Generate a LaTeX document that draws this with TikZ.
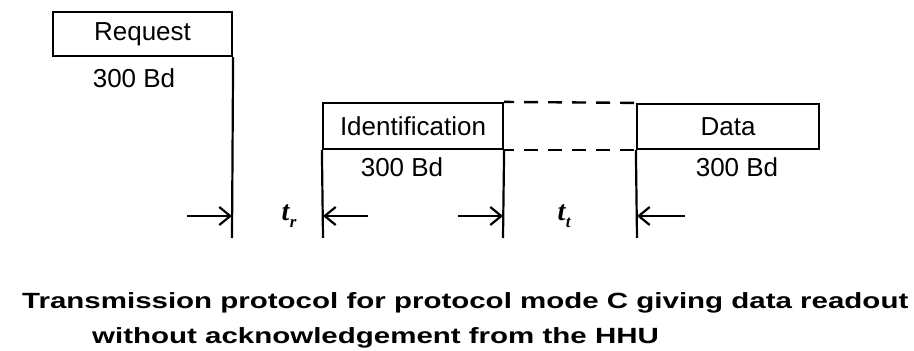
\documentclass[tikz,border=0pt]{standalone}
\usepackage{fontspec}
\setmainfont{Liberation Sans}
\newfontfamily\capfont[FakeStretch=1.34]{Liberation Sans}
\newfontfamily\tfont{Liberation Serif}
\usetikzlibrary{arrows.meta}
\tikzset{
  boxframe/.style={draw, line width=2.2pt, inner sep=0pt, font=\fontsize{26}{30}\selectfont},
  baudlbl/.style={inner sep=0pt, font=\fontsize{26}{30}\selectfont},
  tline/.style={line width=2.2pt},
  gapline/.style={line width=2.4pt, dash pattern=on 14pt off 10pt, dash phase=4pt},
  dimarrow/.style={line width=2.2pt, -{Straight Barb[length=11pt,width=18pt,line width=2.2pt]}},
  tlbl/.style={inner sep=0pt, font=\tfont\bfseries\itshape\fontsize{28}{30}\selectfont},
  captxt/.style={inner sep=0pt, anchor=base west, font=\capfont\bfseries\fontsize{22}{26}\selectfont}
}
\newcommand{\tsub}[1]{t\kern0.5pt\raisebox{-7pt}{\fontsize{17}{17}\selectfont #1}}
\begin{document}
\begin{tikzpicture}[x=1pt,y=-1pt]
\useasboundingbox (0,0) rectangle (914,351);
% boxes
\node[boxframe, minimum width=179pt, minimum height=44pt] (req) at (142.5,34) {Request};
\node[boxframe, minimum width=180pt, minimum height=46pt] (ident) at (413,126) {Identification};
\node[boxframe, minimum width=182pt, minimum height=45pt] (data) at (728,126.5) {Data};
% baud labels
\node[baudlbl] (b1) at (134,78) {300 Bd};
\node[baudlbl] (b2) at (402,167) {300 Bd};
\node[baudlbl] (b3) at (737,167) {300 Bd};
% vertical time marks
\coordinate (v1) at (232,238);
\coordinate (v2) at (323,238);
\coordinate (v3) at (503,238);
\coordinate (v4) at (637,238);
\draw[tline] (req.south east) -- (v1);
\draw[tline] (ident.south west) -- (v2);
\draw[tline] (ident.south east) -- (v3);
\draw[tline] (data.south west) -- (v4);
% dashed gap
\draw[gapline] (ident.north east) -- (data.north west);
\draw[gapline] (ident.south east) -- (data.south west);
% dimension arrows
\coordinate (a1) at (187,216);
\coordinate (a2) at (368,216);
\coordinate (a3) at (458,216);
\coordinate (a4) at (685,216);
\draw[dimarrow] (a1) -- (v1 |- a1);
\draw[dimarrow] (a2) -- (v2 |- a2);
\draw[dimarrow] (a3) -- (v3 |- a3);
\draw[dimarrow] (a4) -- (v4 |- a4);
\node[tlbl] (tr) at (289,216) {\tsub{r}};
\node[tlbl] (tt) at (564,216) {\tsub{t}};
% caption
\node[captxt] (c1) at (22,308) {Transmission protocol for protocol mode C giving data readout};
\node[captxt] (c2) at (92,343) {without acknowledgement from the HHU};
\end{tikzpicture}
\end{document}
